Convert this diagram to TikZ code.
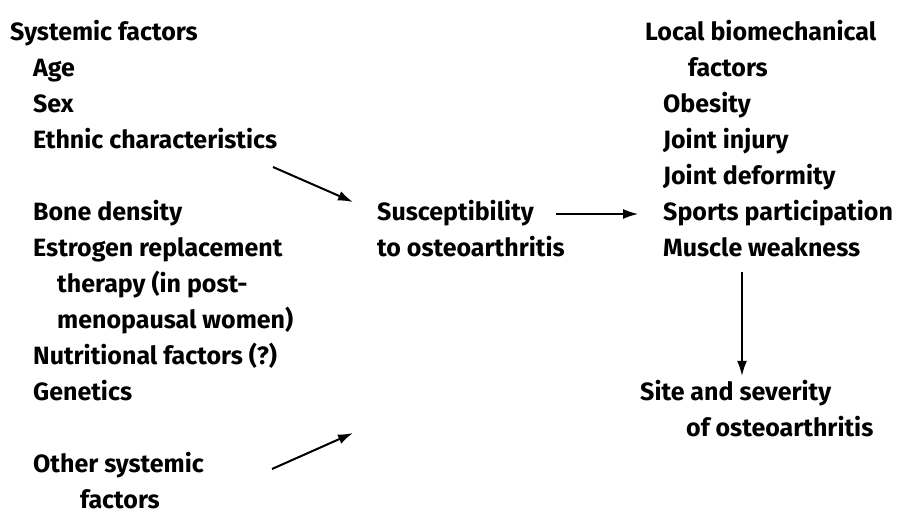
\documentclass[tikz,border=0pt]{standalone}
\usepackage{fontspec}
\setmainfont{Fira Sans}
\usetikzlibrary{arrows.meta}

\begin{document}
\begin{tikzpicture}[x=1pt, y=-1pt, >={Latex[length=15pt, width=10pt]},
    font=\fontsize{25}{30}\selectfont\bfseries,
    txt/.style={anchor=base west, inner sep=0pt, text height=18pt, text depth=6pt},
    arr/.style={->, line width=2pt}]
  \useasboundingbox (0,0) rectangle (900,515);
  % systemic factors
  \node[txt] (sys)  at (10,40)  {Systemic factors};
  \node[txt] (age)  at (33,76)  {Age};
  \node[txt] (sex)  at (33,112) {Sex};
  \node[txt] (eth)  at (33,148) {Ethnic characteristics};
  \node[txt] (bone) at (33,220) {Bone density};
  \node[txt] (estr) at (33,256) {Estrogen replacement};
  \node[txt] (ther) at (57,292) {therapy (in post-};
  \node[txt] (meno) at (57,328) {menopausal women)};
  \node[txt] (nutr) at (33,364) {Nutritional factors (?)};
  \node[txt] (gen)  at (33,400) {Genetics};
  \node[txt] (oth)  at (33,472) {Other systemic};
  \node[txt] (othf) at (80,508) {factors};
  % susceptibility
  \node[txt] (susc)  at (377,220) {Susceptibility};
  \node[txt] (suscb) at (377,256) {to osteoarthritis};
  % local factors
  \node[txt] (loc)   at (645,40)  {Local biomechanical};
  \node[txt] (locf)  at (688,76)  {factors};
  \node[txt] (obes)  at (663,112) {Obesity};
  \node[txt] (injr)  at (663,148) {Joint injury};
  \node[txt] (defm)  at (663,184) {Joint deformity};
  \node[txt] (sport) at (663,220) {Sports participation};
  \node[txt] (musc)  at (663,256) {Muscle weakness};
  % outcome
  \node[txt] (site)  at (640,400) {Site and severity};
  \node[txt] (sitef) at (686,436) {of osteoarthritis};

  \coordinate (in1) at (273,167);
  \coordinate (to1) at (353,202);
  \coordinate (in2) at (272,469);
  \coordinate (to2) at (353,433);
  \coordinate (vx) at (742,0);
  \draw[arr] (in1) -- (to1);
  \draw[arr] (in2) -- (to2);
  \draw[arr, line width=1.5pt, shorten <=22pt, shorten >=25pt] (susc.east) -- (sport.west);
  \draw[arr, line width=1.5pt, shorten <=10pt, shorten >=6pt] (musc.south -| vx) -- (site.north -| vx);
\end{tikzpicture}
\end{document}
